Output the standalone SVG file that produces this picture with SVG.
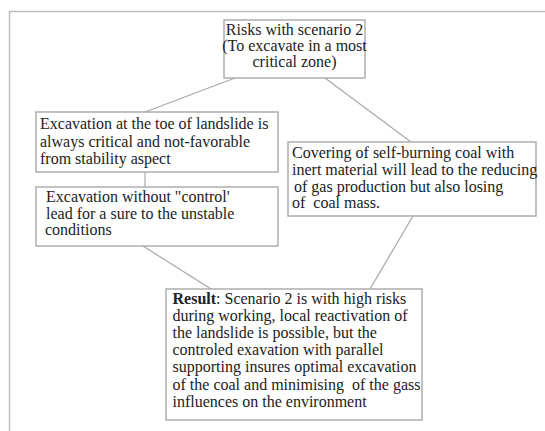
<svg xmlns="http://www.w3.org/2000/svg" width="545" height="431" viewBox="0 0 545 431">
<style>
.box{fill:#fff;stroke:#a8a8a8;stroke-width:1.4}
.t{font-family:"Liberation Serif","Times New Roman",serif;font-size:16px;fill:#222;white-space:pre}
.c{stroke:#a8a8a8;stroke-width:1.2;fill:none}
.frame{stroke:#bdbdbd;stroke-width:1.5;fill:none}
</style>
<rect width="545" height="431" fill="#fff"/>
<path class="frame" d="M9.5 431 V11.5 H545"/>
<g id="connectors">
<line class="c" x1="235" y1="78" x2="145" y2="112"/>
<line class="c" x1="325" y1="78" x2="411" y2="142"/>
<line class="c" x1="145" y1="172" x2="145" y2="187"/>
<line class="c" x1="143" y1="246" x2="211" y2="289"/>
<line class="c" x1="413" y1="216" x2="370" y2="289"/>
</g>
<g id="top">
<rect class="box" x="224" y="20" width="141" height="58"/>
<text class="t" text-anchor="middle"><tspan x="294.5" y="35">Risks with scenario 2</tspan><tspan x="294.5" y="51">(To excavate in a most</tspan><tspan x="294.5" y="67">critical zone)</tspan></text>
</g>
<g id="toe">
<rect class="box" x="36" y="112" width="242" height="60"/>
<text class="t"><tspan x="40" y="129">Excavation at the toe of landslide is</tspan><tspan x="40" y="146.5">always critical and not-favorable</tspan><tspan x="40" y="163.5">from stability aspect</tspan></text>
</g>
<g id="control">
<rect class="box" x="36" y="187" width="242" height="59"/>
<text class="t"><tspan x="46" y="202">Excavation without "control'</tspan><tspan x="46" y="218.5">lead for a sure to the unstable</tspan><tspan x="45" y="235">conditions</tspan></text>
</g>
<g id="covering">
<rect class="box" x="288" y="142" width="248" height="74"/>
<text class="t"><tspan x="292" y="157.5">Covering of self-burning coal with</tspan><tspan x="292" y="175">inert material will lead to the reducing</tspan><tspan x="294" y="191.5">of gas production but also losing</tspan><tspan x="292" y="207.5">of  coal mass.</tspan></text>
</g>
<g id="result">
<rect class="box" x="166" y="289" width="256" height="131"/>
<text class="t"><tspan x="172.5" y="303.5"><tspan font-weight="bold">Result</tspan>: Scenario 2 is with high risks</tspan><tspan x="172.5" y="321">during working, local reactivation of</tspan><tspan x="172.5" y="338">the landslide is possible, but the</tspan><tspan x="172.5" y="355">controled exavation with parallel</tspan><tspan x="172.5" y="372">supporting insures optimal excavation</tspan><tspan x="172.5" y="389.5">of the coal and minimising  of the gass</tspan><tspan x="172.5" y="406.5">influences on the environment</tspan></text>
</g>
</svg>
